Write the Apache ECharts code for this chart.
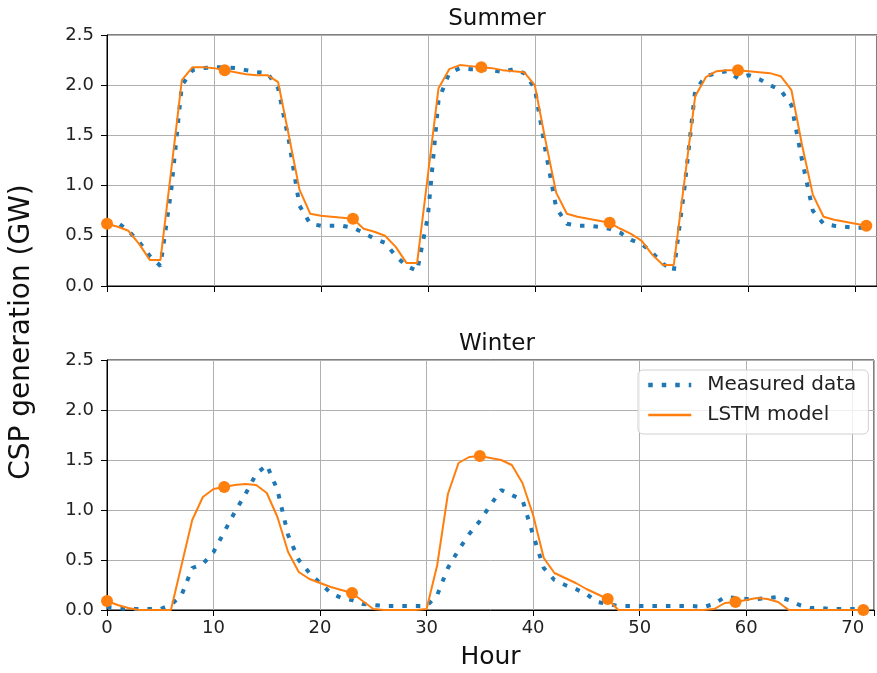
<!DOCTYPE html>
<html>
<head>
<meta charset="utf-8">
<script src="https://cdn.jsdelivr.net/npm/echarts@6/dist/echarts.min.js"></script>
<style>
  html, body { margin: 0; padding: 0; background: #fff; }
  #chart { width: 877px; height: 673px; }
</style>
</head>
<body>
<div id="chart"></div>
<script>
var FONT = 'DejaVu Sans'

var hours = [0, 1, 2, 3, 4, 5, 6, 7, 8, 9, 10, 11, 12, 13, 14, 15, 16, 17, 18, 19, 20, 21, 22, 23,
  24, 25, 26, 27, 28, 29, 30, 31, 32, 33, 34, 35, 36, 37, 38, 39, 40, 41, 42, 43, 44, 45, 46, 47,
  48, 49, 50, 51, 52, 53, 54, 55, 56, 57, 58, 59, 60, 61, 62, 63, 64, 65, 66, 67, 68, 69, 70, 71]

// hours where the LSTM curve is marked with a dot
var markerHours = [0, 11, 23, 35, 47, 59, 71]

var summerMeasured = [
  0.64, 0.63, 0.55, 0.44, 0.30, 0.20, 0.95, 2.00, 2.15, 2.17, 2.18, 2.18, 2.17, 2.15, 2.13, 2.12, 1.97, 1.45, 0.80, 0.62, 0.60, 0.60, 0.60, 0.58,
  0.53, 0.47, 0.43, 0.30, 0.20, 0.15, 0.69, 1.85, 2.12, 2.17, 2.16, 2.16, 2.15, 2.13, 2.16, 2.12, 1.97, 1.35, 0.78, 0.62, 0.60, 0.60, 0.59, 0.57,
  0.53, 0.46, 0.42, 0.33, 0.22, 0.15, 0.98, 1.95, 2.09, 2.12, 2.14, 2.07, 2.10, 2.06, 2.00, 1.95, 1.80, 1.25, 0.75, 0.62, 0.60, 0.59, 0.58, 0.58
]
var summerLstm = [
  0.62, 0.59, 0.55, 0.42, 0.26, 0.26, 1.15, 2.05, 2.18, 2.18, 2.17, 2.15, 2.13, 2.11, 2.10, 2.10, 2.03, 1.50, 0.96, 0.72, 0.70, 0.69, 0.68, 0.67,
  0.57, 0.54, 0.50, 0.39, 0.23, 0.23, 1.10, 1.97, 2.16, 2.20, 2.19, 2.18, 2.17, 2.15, 2.14, 2.13, 2.00, 1.45, 0.93, 0.72, 0.69, 0.67, 0.65, 0.63,
  0.57, 0.52, 0.45, 0.31, 0.21, 0.21, 1.05, 1.89, 2.08, 2.14, 2.15, 2.15, 2.14, 2.13, 2.12, 2.09, 1.95, 1.40, 0.91, 0.69, 0.66, 0.64, 0.62, 0.60
]
var winterMeasured = [
  0.03, 0.02, 0.01, 0.01, 0.01, 0.01, 0.05, 0.15, 0.42, 0.46, 0.58, 0.78, 0.98, 1.16, 1.36, 1.45, 1.20, 0.75, 0.50, 0.37, 0.27, 0.17, 0.12, 0.10,
  0.06, 0.05, 0.04, 0.04, 0.04, 0.04, 0.04, 0.15, 0.42, 0.60, 0.76, 0.89, 1.05, 1.20, 1.15, 1.10, 0.75, 0.42, 0.30, 0.25, 0.21, 0.16, 0.08, 0.06,
  0.04, 0.04, 0.04, 0.04, 0.04, 0.04, 0.04, 0.04, 0.03, 0.06, 0.13, 0.12, 0.11, 0.11, 0.12, 0.13, 0.10, 0.05, 0.02, 0.02, 0.01, 0.01, 0.01, 0.01
]
var winterLstm = [
  0.09, 0.05, 0.02, 0.00, 0.00, 0.00, 0.00, 0.45, 0.90, 1.13, 1.21, 1.23, 1.25, 1.26, 1.25, 1.17, 0.93, 0.58, 0.38, 0.31, 0.27, 0.23, 0.20, 0.17,
  0.09, 0.01, 0.00, 0.00, 0.00, 0.00, 0.01, 0.45, 1.16, 1.47, 1.53, 1.54, 1.52, 1.50, 1.45, 1.27, 0.95, 0.52, 0.37, 0.32, 0.27, 0.21, 0.16, 0.11,
  0.00, 0.00, 0.00, 0.00, 0.00, 0.00, 0.00, 0.00, 0.00, 0.01, 0.07, 0.08, 0.10, 0.12, 0.11, 0.08, 0.00, 0.00, 0.00, 0.00, 0.00, 0.00, 0.00, 0.00
]

function pairs(vals) {
  return hours.map(function (h, i) { return [h, vals[i]] })
}
function markerPairs(vals) {
  return markerHours.map(function (h) { return [h, vals[hours.indexOf(h)]] })
}

function xAxisFor(idx, showLabels) {
  var ax = {
    type: 'value', gridIndex: idx, min: 0, max: 72, interval: 10,
    axisLine: { show: true, onZero: false, lineStyle: { color: '#000', width: 1 } },
    axisTick: { show: true, inside: false, length: 6, lineStyle: { color: '#000' } },
    axisLabel: {
      show: showLabels, margin: 9, fontFamily: FONT, fontSize: 18, color: '#222',
      formatter: function (v) { return v % 10 === 0 ? String(v) : '' }
    },
    splitLine: { show: true, lineStyle: { color: '#b0b0b0', width: 1 } }
  }
  if (showLabels) {
    ax.name = 'Hour'
    ax.nameLocation = 'middle'
    ax.nameGap = 35
    ax.nameTextStyle = { fontFamily: FONT, fontSize: 25, color: '#111' }
  }
  return ax
}
function yAxisFor(idx) {
  return {
    type: 'value', gridIndex: idx, min: 0, max: 2.5, interval: 0.5,
    axisLine: { show: true, lineStyle: { color: '#000', width: 1 } },
    axisTick: { show: true, inside: false, length: 6, lineStyle: { color: '#000' } },
    axisLabel: {
      margin: 13, fontFamily: FONT, fontSize: 18, color: '#222',
      formatter: function (v) { return v.toFixed(1) }
    },
    splitLine: { show: true, lineStyle: { color: '#b0b0b0', width: 1 } }
  }
}

var measuredStyle = { color: '#1f77b4', width: 4, type: [4.5, 9], cap: 'butt' }
var lstmStyle = { color: '#ff7f0e', width: 2 }

function panelSeries(idx, measured, lstm) {
  return [{
    name: 'Measured data', type: 'line', xAxisIndex: idx, yAxisIndex: idx,
    symbol: 'none', itemStyle: { color: '#1f77b4' }, lineStyle: measuredStyle,
    data: pairs(measured), z: 2
  }, {
    name: 'LSTM model', type: 'line', xAxisIndex: idx, yAxisIndex: idx,
    symbol: 'none', itemStyle: { color: '#ff7f0e' }, lineStyle: lstmStyle,
    data: pairs(lstm), z: 3
  }, {
    name: 'LSTM points', type: 'scatter', xAxisIndex: idx, yAxisIndex: idx,
    symbolSize: 12, itemStyle: { color: '#ff7f0e', opacity: 1 },
    data: markerPairs(lstm), z: 4
  }]
}

var option = {
  animation: false,
  backgroundColor: '#fff',
  title: [
    { text: 'Summer', left: 492, top: 3, textAlign: 'center',
      textStyle: { fontFamily: FONT, fontSize: 23, fontWeight: 'normal', color: '#111' } },
    { text: 'Winter', left: 492, top: 328, textAlign: 'center',
      textStyle: { fontFamily: FONT, fontSize: 23, fontWeight: 'normal', color: '#111' } }
  ],
  grid: [
    { left: 107, top: 35, width: 770, height: 251, show: true, borderColor: '#000', borderWidth: 1, backgroundColor: 'transparent' },
    { left: 107, top: 360, width: 770, height: 250, show: true, borderColor: '#000', borderWidth: 1, backgroundColor: 'transparent' }
  ],
  xAxis: [xAxisFor(0, false), xAxisFor(1, true)],
  yAxis: [yAxisFor(0), yAxisFor(1)],
  legend: {
    data: [
      { name: 'Measured data', lineStyle: { width: 4.5 } },
      { name: 'LSTM model', lineStyle: { width: 2.5 } }
    ],
    orient: 'vertical', left: 638, top: 370,
    padding: [5, 12, 9, 8],
    itemWidth: 43, itemHeight: 20, itemGap: 10,
    itemStyle: { opacity: 0 },
    textStyle: { fontFamily: FONT, fontSize: 20, color: '#222', padding: [0, 0, 0, 11] },
    borderColor: '#d0d0d0', borderWidth: 1, borderRadius: 5,
    backgroundColor: 'rgba(255,255,255,0.8)'
  },
  graphic: [{
    type: 'text', x: 22, y: 332, rotation: Math.PI / 2,
    style: { text: 'CSP generation (GW)', font: '28px "DejaVu Sans"', fill: '#111',
      textAlign: 'center', textVerticalAlign: 'middle' }
  }],
  series: panelSeries(0, summerMeasured, summerLstm).concat(panelSeries(1, winterMeasured, winterLstm))
}

var myChart = echarts.init(document.getElementById('chart'))
myChart.setOption(option)
</script>
</body>
</html>
